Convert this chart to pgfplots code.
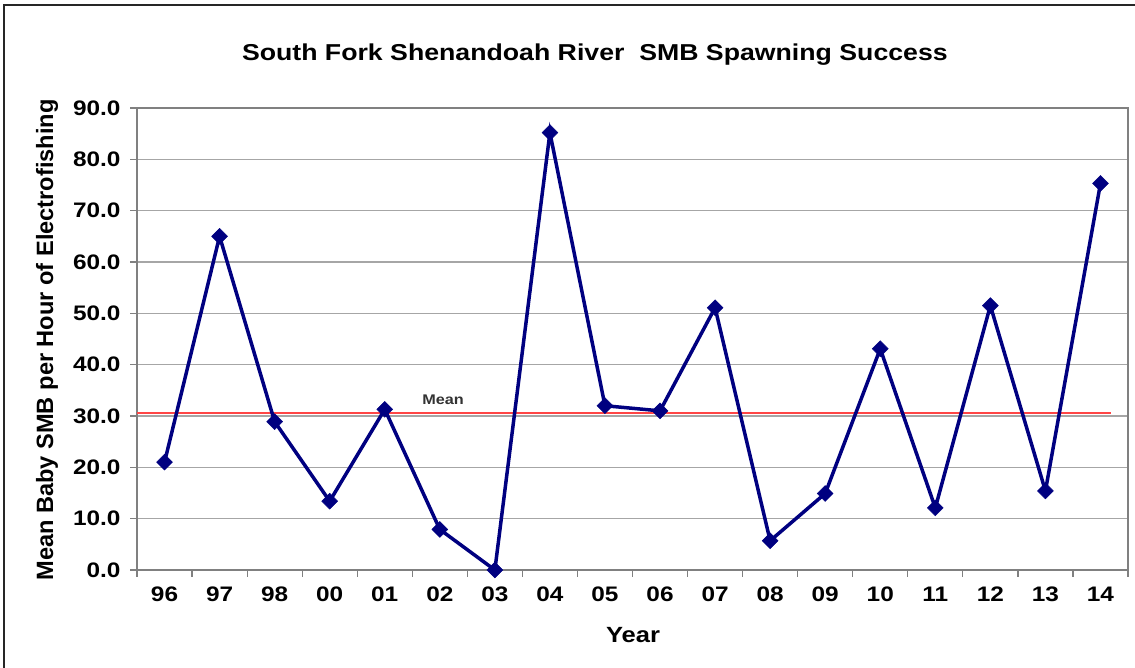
\documentclass[border=0pt]{standalone}
\usepackage{pgfplots}
\pgfplotsset{compat=1.18}
\usepackage{fontspec}
\setmainfont{Liberation Sans}[FakeStretch=1.16]
\newfontfamily\plainsans{Liberation Sans}
\definecolor{navyline}{HTML}{000080}
\definecolor{gridgray}{HTML}{A6A6A6}
\definecolor{axgray}{HTML}{808080}
\definecolor{meanred}{RGB}{255,70,70}
\begin{document}
\begin{tikzpicture}[x=1pt,y=1pt]
\useasboundingbox (0,0) rectangle (1135,668);
\draw[line width=2pt,black!85] (4,0) -- (4,663) -- (1140,663);
\begin{axis}[
  at={(137pt,98pt)}, anchor=south west,
  scale only axis, width=991pt, height=462pt,
  xmin=-0.5, xmax=17.5, ymin=0, ymax=90,
  xtick={0,...,17},
  xticklabels={96,97,98,00,01,02,03,04,05,06,07,08,09,10,11,12,13,14},
  minor xtick={-0.5,0.5,...,17.5},
  ytick={0,10,...,90},
  tick align=outside,
  major tick length=7pt, minor tick length=7pt,
  x tick style={draw=none},
  minor x tick style={draw=axgray, line width=1.2pt},
  y tick style={draw=axgray, line width=1.2pt},
  xtick pos=bottom, ytick pos=left,
  ymajorgrids,
  major grid style={gridgray, line width=1.6pt},
  axis line style={axgray, line width=1.4pt},
  /pgf/number format/assume math mode=true,
  yticklabel={\pgfmathprintnumber[fixed,fixed zerofill,precision=1]{\tick}},
  ticklabel style={font=\fontsize{21}{24}\selectfont\bfseries},
  xticklabel style={yshift=-6pt, text height=15pt, text depth=0pt},
  yticklabel style={xshift=-6pt},
  clip=false,
]
\addplot[draw=meanred, line width=2pt, mark=none] coordinates {(-0.5,30.5) (17.2,30.5)};
\addplot[navyline, line width=3.5pt, mark=square*, mark size=5.6pt,
  mark options={rotate=45, solid, fill=navyline, draw=navyline, line width=0.5pt}]
  coordinates {
  (0,21.0) (1,65.0) (2,28.9) (3,13.4) (4,31.3) (5,7.9) (6,0.0) (7,85.2)
  (8,32.0) (9,31.0) (10,51.1) (11,5.7) (12,14.9) (13,43.1) (14,12.1)
  (15,51.5) (16,15.4) (17,75.3)
  };
\node[font=\fontsize{14}{16}\selectfont\bfseries, text=black!80] at (axis cs:5.06,33.1) {Mean};
\node[font=\fontsize{23}{27}\selectfont\bfseries] at (rel axis cs:0.462,1.115) {South Fork Shenandoah River\ \ SMB Spawning Success};
\node[font=\plainsans\fontsize{23.6}{27}\selectfont\bfseries, rotate=90] at (rel axis cs:-0.0908,0.498) {Mean Baby SMB per Hour of Electrofishing};
\node[font=\fontsize{22}{26}\selectfont\bfseries] at (rel axis cs:0.5005,-0.141) {Year};
\end{axis}
\end{tikzpicture}
\end{document}
